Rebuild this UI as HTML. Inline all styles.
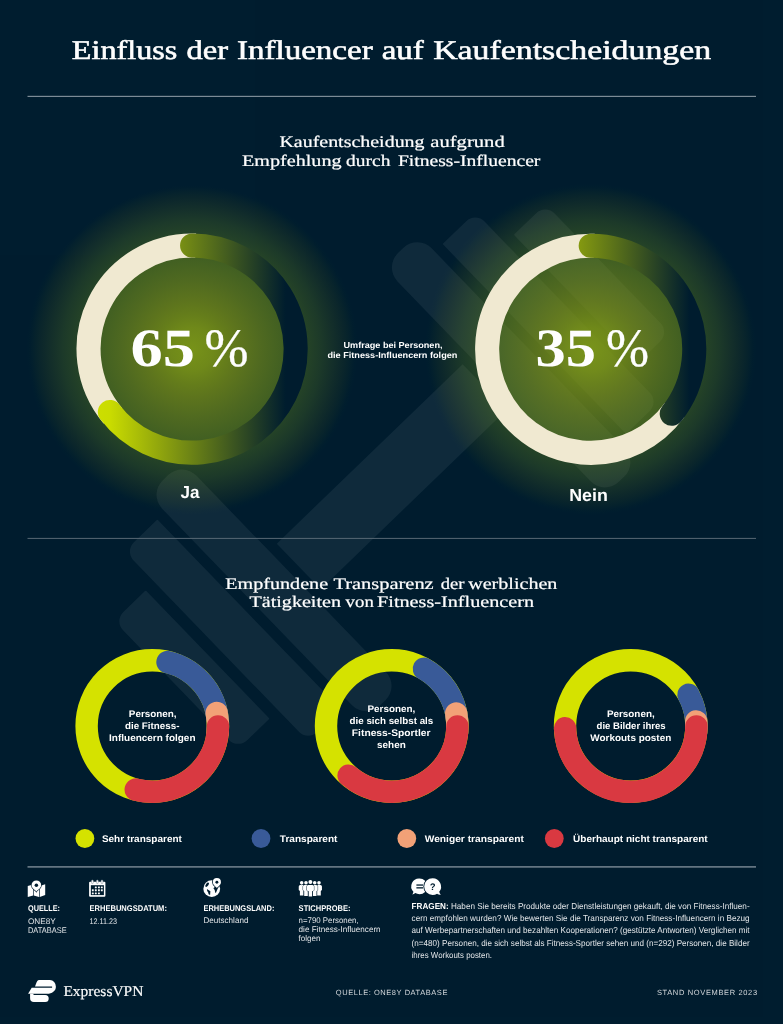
<!DOCTYPE html>
<html lang="de"><head><meta charset="utf-8"><title>Einfluss der Influencer auf Kaufentscheidungen</title>
<style>
html,body{margin:0;padding:0;background:#001d2f;}
body{width:783px;height:1024px;overflow:hidden;position:relative;font-family:"Liberation Sans",sans-serif;}
svg{position:absolute;left:0;top:0;display:block}
text{text-rendering:geometricPrecision}
svg{opacity:.9999;will-change:transform}
.serif{font-family:"Liberation Serif",serif}
.sans{font-family:"Liberation Sans",sans-serif}
.b{font-weight:bold}
</style></head><body>
<svg width="783" height="1024" viewBox="0 0 783 1024">
<defs><radialGradient id="glow" cx="50%" cy="50%" r="50%"><stop offset="0" stop-color="rgb(132,159,24)" stop-opacity="0.909"/><stop offset="0.13" stop-color="rgb(132,157,23)" stop-opacity="0.848"/><stop offset="0.21" stop-color="rgb(132,155,22)" stop-opacity="0.773"/><stop offset="0.29" stop-color="rgb(132,153,23)" stop-opacity="0.712"/><stop offset="0.42" stop-color="rgb(132,156,24)" stop-opacity="0.606"/><stop offset="0.555" stop-color="rgb(132,163,23)" stop-opacity="0.500"/><stop offset="0.7" stop-color="rgb(132,165,22)" stop-opacity="0.280"/><stop offset="0.78" stop-color="rgb(132,161,24)" stop-opacity="0.220"/><stop offset="0.855" stop-color="rgb(132,148,21)" stop-opacity="0.152"/><stop offset="0.915" stop-color="rgb(132,139,14)" stop-opacity="0.091"/><stop offset="0.975" stop-color="rgb(132,161,0)" stop-opacity="0.015"/><stop offset="1" stop-color="#7b9f19" stop-opacity="0"/></radialGradient>
<linearGradient id="g1" gradientUnits="userSpaceOnUse" x1="76" y1="0" x2="286" y2="0">
<stop offset="0" stop-color="#d2e200"/><stop offset="0.16" stop-color="#cbdd01"/><stop offset="1" stop-color="#001d2f"/>
</linearGradient>
<linearGradient id="g2" gradientUnits="userSpaceOnUse" x1="517" y1="0" x2="690" y2="0">
<stop offset="0" stop-color="#d0e000"/><stop offset="1" stop-color="#001d2f"/>
</linearGradient>
</defs>
<rect width="783" height="1024" fill="#001d2f"/>
<g transform="translate(391.73 476.68) rotate(-44)" fill="rgba(255,255,255,0.062)">
<rect x="-129.2" y="-31.7" width="258.4" height="63.4"/>
<path d="M159.8 -156.5H167.4A20 20 0 0 1 187.4 -136.5V141.5A20 20 0 0 1 167.4 161.5H159.8A20 20 0 0 1 139.8 141.5V-136.5A20 20 0 0 1 159.8 -156.5Z"/>
<path d="M-167.4 -156.5H-159.8A20 20 0 0 1 -139.8 -136.5V136.5A20 20 0 0 1 -159.8 156.5H-167.4A20 20 0 0 1 -187.4 136.5V-136.5A20 20 0 0 1 -167.4 -156.5Z"/>
<path d="M199.2 -132H231.0A13 13 0 0 1 244.0 -119V119A13 13 0 0 1 231.0 132H199.2A1 1 0 0 1 198.2 131V-131A1 1 0 0 1 199.2 -132Z"/>
<path d="M-231.0 -132H-199.2A1 1 0 0 1 -198.2 -131V131A1 1 0 0 1 -199.2 132H-231.0A13 13 0 0 1 -244.0 119V-119A13 13 0 0 1 -231.0 -132Z"/>
<path d="M256.9 -89.2H287.0A13 13 0 0 1 300.0 -76.2V76.2A13 13 0 0 1 287.0 89.2H256.9A1 1 0 0 1 255.9 88.2V-88.2A1 1 0 0 1 256.9 -89.2Z"/>
<path d="M-287.0 -89.2H-256.9A1 1 0 0 1 -255.9 -88.2V88.2A1 1 0 0 1 -256.9 89.2H-287.0A13 13 0 0 1 -300.0 76.2V-76.2A13 13 0 0 1 -287.0 -89.2Z"/>
</g>
<circle cx="192.1" cy="349.1" r="166" fill="url(#glow)"/>
<circle cx="590.7" cy="349.3" r="166" fill="url(#glow)"/>
<path d="M112.78 415.66A103.55 103.55 0 0 1 195.71 245.61" fill="none" stroke="#f1ead2" stroke-width="24.1"/>
<path d="M192.10 245.55A103.55 103.55 0 1 1 109.84 411.99" fill="none" stroke="url(#g1)" stroke-width="24.1" stroke-linecap="round"/>
<path d="M674.47 410.17A103.55 103.55 0 1 1 594.31 245.81" fill="none" stroke="#f1ead2" stroke-width="24.1"/>
<path d="M590.70 245.75A103.55 103.55 0 0 1 671.74 413.76" fill="none" stroke="url(#g2)" stroke-width="24.1" stroke-linecap="round"/>
<rect x="27.5" y="95.8" width="728.5" height="1.2" fill="#7d8c97"/>
<rect x="27.5" y="537.9" width="728.5" height="1" fill="#586975"/>
<rect x="27.5" y="866.2" width="728.5" height="1.4" fill="#7d8c97"/>
<circle cx="152.3" cy="726" r="65.7" fill="none" stroke="#d6e300" stroke-width="22.4"/>
<path d="M167.53 662.09A65.7 65.7 0 0 1 217.58 718.56" fill="none" stroke="#3a5b99" stroke-width="22.4" stroke-linecap="round"/>
<path d="M216.68 712.90A65.7 65.7 0 0 1 217.71 732.18" fill="none" stroke="#f3a278" stroke-width="22.4" stroke-linecap="round"/>
<path d="M218.00 726.46A65.7 65.7 0 0 1 135.74 789.58" fill="none" stroke="#da3a42" stroke-width="22.4" stroke-linecap="round"/>
<circle cx="391.7" cy="726" r="65.7" fill="none" stroke="#d6e300" stroke-width="22.4"/>
<path d="M423.85 668.71A65.7 65.7 0 0 1 457.04 719.13" fill="none" stroke="#3a5b99" stroke-width="22.4" stroke-linecap="round"/>
<path d="M456.19 713.46A65.7 65.7 0 0 1 457.11 732.18" fill="none" stroke="#f3a278" stroke-width="22.4" stroke-linecap="round"/>
<path d="M457.40 726.46A65.7 65.7 0 0 1 348.60 775.58" fill="none" stroke="#da3a42" stroke-width="22.4" stroke-linecap="round"/>
<circle cx="630.7" cy="726" r="65.7" fill="none" stroke="#d6e300" stroke-width="22.4"/>
<path d="M688.49 694.75A65.7 65.7 0 0 1 696.39 727.15" fill="none" stroke="#3a5b99" stroke-width="22.4" stroke-linecap="round"/>
<path d="M696.24 721.42A65.7 65.7 0 0 1 696.11 732.18" fill="none" stroke="#f3a278" stroke-width="22.4" stroke-linecap="round"/>
<path d="M696.40 726.46A65.7 65.7 0 0 1 565.04 728.29" fill="none" stroke="#da3a42" stroke-width="22.4" stroke-linecap="round"/>
<circle cx="84.9" cy="838.5" r="9.4" fill="#d6e300"/>
<circle cx="261" cy="838.5" r="9.4" fill="#3a5b99"/>
<circle cx="406.8" cy="838.5" r="9.4" fill="#f3a278"/>
<circle cx="554.3" cy="838.5" r="9.4" fill="#da3a42"/>
<text x="71.8" y="58.8" font-size="27" class="serif" textLength="105.6" lengthAdjust="spacingAndGlyphs" stroke="#fff" stroke-width="0.55" fill="#fff">Einfluss</text>
<text x="186.4" y="58.8" font-size="27" class="serif" textLength="41.6" lengthAdjust="spacingAndGlyphs" stroke="#fff" stroke-width="0.55" fill="#fff">der</text>
<text x="237" y="58.8" font-size="27" class="serif" textLength="135.7" lengthAdjust="spacingAndGlyphs" stroke="#fff" stroke-width="0.55" fill="#fff">Influencer</text>
<text x="381.7" y="58.8" font-size="27" class="serif" textLength="42.2" lengthAdjust="spacingAndGlyphs" stroke="#fff" stroke-width="0.55" fill="#fff">auf</text>
<text x="433.2" y="58.8" font-size="27" class="serif" textLength="278.0" lengthAdjust="spacingAndGlyphs" stroke="#fff" stroke-width="0.55" fill="#fff">Kaufentscheidungen</text>
<text x="279.4" y="146.9" font-size="16.2" class="serif" textLength="145.2" lengthAdjust="spacingAndGlyphs" stroke="#fff" stroke-width="0.22" fill="#fff">Kaufentscheidung</text>
<text x="430.3" y="146.9" font-size="16.2" class="serif" textLength="74.4" lengthAdjust="spacingAndGlyphs" stroke="#fff" stroke-width="0.22" fill="#fff">aufgrund</text>
<text x="242" y="166.4" font-size="16.2" class="serif" textLength="99.6" lengthAdjust="spacingAndGlyphs" stroke="#fff" stroke-width="0.22" fill="#fff">Empfehlung</text>
<text x="346.1" y="166.4" font-size="16.2" class="serif" textLength="44.3" lengthAdjust="spacingAndGlyphs" stroke="#fff" stroke-width="0.22" fill="#fff">durch</text>
<text x="397.9" y="166.4" font-size="16.2" class="serif" textLength="142.5" lengthAdjust="spacingAndGlyphs" stroke="#fff" stroke-width="0.22" fill="#fff">Fitness-Influencer</text>
<text x="225.3" y="588.5" font-size="16.2" class="serif" textLength="102.8" lengthAdjust="spacingAndGlyphs" stroke="#fff" stroke-width="0.22" fill="#fff">Empfundene</text>
<text x="333.4" y="588.5" font-size="16.2" class="serif" textLength="100.3" lengthAdjust="spacingAndGlyphs" stroke="#fff" stroke-width="0.22" fill="#fff">Transparenz</text>
<text x="440.7" y="588.5" font-size="16.2" class="serif" textLength="23.7" lengthAdjust="spacingAndGlyphs" stroke="#fff" stroke-width="0.22" fill="#fff">der</text>
<text x="468.2" y="588.5" font-size="16.2" class="serif" textLength="89.2" lengthAdjust="spacingAndGlyphs" stroke="#fff" stroke-width="0.22" fill="#fff">werblichen</text>
<text x="249.5" y="607.3" font-size="16.2" class="serif" textLength="91.5" lengthAdjust="spacingAndGlyphs" stroke="#fff" stroke-width="0.22" fill="#fff">Tätigkeiten</text>
<text x="345.6" y="607.3" font-size="16.2" class="serif" textLength="28.2" lengthAdjust="spacingAndGlyphs" stroke="#fff" stroke-width="0.22" fill="#fff">von</text>
<text x="377.1" y="607.3" font-size="16.2" class="serif" textLength="156.9" lengthAdjust="spacingAndGlyphs" stroke="#fff" stroke-width="0.22" fill="#fff">Fitness-Influencern</text>
<text x="130.6" y="365.8" font-size="54" class="serif b" text-anchor="start" textLength="64.4" lengthAdjust="spacingAndGlyphs"  fill="#fff">65</text>
<text x="204.4" y="365.8" font-size="54" class="serif" text-anchor="start" textLength="44" lengthAdjust="spacingAndGlyphs" stroke="#fff" stroke-width="0.3" fill="#fff">%</text>
<text x="535.5" y="366.3" font-size="54" class="serif b" text-anchor="start" textLength="60.5" lengthAdjust="spacingAndGlyphs"  fill="#fff">35</text>
<text x="606" y="366.3" font-size="54" class="serif" text-anchor="start" textLength="43" lengthAdjust="spacingAndGlyphs" stroke="#fff" stroke-width="0.3" fill="#fff">%</text>
<text x="190.1" y="498.4" font-size="17.3" class="sans b" text-anchor="middle" textLength="19" lengthAdjust="spacingAndGlyphs"  fill="#fff">Ja</text>
<text x="588.5" y="501.3" font-size="17.3" class="sans b" text-anchor="middle" textLength="38.6" lengthAdjust="spacingAndGlyphs"  fill="#fff">Nein</text>
<text x="393" y="348.2" font-size="8.6" class="sans b" text-anchor="middle" textLength="99" lengthAdjust="spacingAndGlyphs"  fill="#fff">Umfrage bei Personen,</text>
<text x="392.4" y="357.8" font-size="8.6" class="sans b" text-anchor="middle" textLength="130" lengthAdjust="spacingAndGlyphs"  fill="#fff">die Fitness-Influencern folgen</text>
<text x="152.7" y="716.6" font-size="9.6" class="sans b" text-anchor="middle" textLength="47.8" lengthAdjust="spacingAndGlyphs"  fill="#fff">Personen,</text>
<text x="152.2" y="728.5" font-size="9.6" class="sans b" text-anchor="middle" textLength="54.4" lengthAdjust="spacingAndGlyphs"  fill="#fff">die Fitness-</text>
<text x="152.3" y="740.5" font-size="9.6" class="sans b" text-anchor="middle" textLength="86.4" lengthAdjust="spacingAndGlyphs"  fill="#fff">Influencern folgen</text>
<text x="391.4" y="712" font-size="9.6" class="sans b" text-anchor="middle" textLength="47.8" lengthAdjust="spacingAndGlyphs"  fill="#fff">Personen,</text>
<text x="391.4" y="724.1" font-size="9.6" class="sans b" text-anchor="middle" textLength="83.7" lengthAdjust="spacingAndGlyphs"  fill="#fff">die sich selbst als</text>
<text x="391.2" y="736.2" font-size="9.6" class="sans b" text-anchor="middle" textLength="78.7" lengthAdjust="spacingAndGlyphs"  fill="#fff">Fitness-Sportler</text>
<text x="391.4" y="748" font-size="9.6" class="sans b" text-anchor="middle" textLength="28.7" lengthAdjust="spacingAndGlyphs"  fill="#fff">sehen</text>
<text x="630.8" y="716.5" font-size="9.6" class="sans b" text-anchor="middle" textLength="47.8" lengthAdjust="spacingAndGlyphs"  fill="#fff">Personen,</text>
<text x="631.1" y="728.5" font-size="9.6" class="sans b" text-anchor="middle" textLength="69.1" lengthAdjust="spacingAndGlyphs"  fill="#fff">die Bilder ihres</text>
<text x="630.8" y="740.5" font-size="9.6" class="sans b" text-anchor="middle" textLength="81" lengthAdjust="spacingAndGlyphs"  fill="#fff">Workouts posten</text>
<text x="101.9" y="842" font-size="9.6" class="sans b" text-anchor="start" textLength="80" lengthAdjust="spacingAndGlyphs"  fill="#fff">Sehr transparent</text>
<text x="279.8" y="842" font-size="9.6" class="sans b" text-anchor="start" textLength="57.6" lengthAdjust="spacingAndGlyphs"  fill="#fff">Transparent</text>
<text x="424.7" y="842" font-size="9.6" class="sans b" text-anchor="start" textLength="99.2" lengthAdjust="spacingAndGlyphs"  fill="#fff">Weniger transparent</text>
<text x="573.1" y="842" font-size="9.6" class="sans b" text-anchor="start" textLength="134.6" lengthAdjust="spacingAndGlyphs"  fill="#fff">Überhaupt nicht transparent</text>
<text x="28" y="911.1" font-size="8.3" class="sans b" text-anchor="start" textLength="32" lengthAdjust="spacingAndGlyphs"  fill="#fff">QUELLE:</text>
<text x="28" y="923.8" font-size="8.2" class="sans" text-anchor="start" fill="#e3e6e9">ONE8Y</text>
<text x="28" y="933.1" font-size="8.2" class="sans" text-anchor="start" textLength="38.6" lengthAdjust="spacingAndGlyphs" fill="#e3e6e9">DATABASE</text>
<text x="89.5" y="911.1" font-size="8.3" class="sans b" text-anchor="start" textLength="77.4" lengthAdjust="spacingAndGlyphs"  fill="#fff">ERHEBUNGSDATUM:</text>
<text x="89.5" y="923.8" font-size="8.2" class="sans" text-anchor="start" textLength="27.5" lengthAdjust="spacingAndGlyphs" fill="#e3e6e9">12.11.23</text>
<text x="203.4" y="911.1" font-size="8.3" class="sans b" text-anchor="start" textLength="71" lengthAdjust="spacingAndGlyphs"  fill="#fff">ERHEBUNGSLAND:</text>
<text x="203.4" y="923.2" font-size="8.2" class="sans" text-anchor="start" textLength="45" lengthAdjust="spacingAndGlyphs" fill="#e3e6e9">Deutschland</text>
<text x="298.6" y="911.1" font-size="8.3" class="sans b" text-anchor="start" textLength="52" lengthAdjust="spacingAndGlyphs"  fill="#fff">STICHPROBE:</text>
<text x="298.6" y="923.2" font-size="8.2" class="sans" text-anchor="start" textLength="60" lengthAdjust="spacingAndGlyphs" fill="#e3e6e9">n=790 Personen,</text>
<text x="298.6" y="932.3" font-size="8.2" class="sans" text-anchor="start" textLength="82" lengthAdjust="spacingAndGlyphs" fill="#e3e6e9">die Fitness-Influencern</text>
<text x="298.6" y="941.2" font-size="8.2" class="sans" text-anchor="start" textLength="22" lengthAdjust="spacingAndGlyphs" fill="#e3e6e9">folgen</text>
<text x="411.6" y="909.4" font-size="8.6" class="sans" text-anchor="start" textLength="338" lengthAdjust="spacingAndGlyphs" fill="#e3e6e9"><tspan class="b" fill="#fff">FRAGEN:</tspan> Haben Sie bereits Produkte oder Dienstleistungen gekauft, die von Fitness-Influen-</text>
<text x="411.6" y="921.3" font-size="8.6" class="sans" text-anchor="start" textLength="338" lengthAdjust="spacingAndGlyphs" fill="#e3e6e9">cern empfohlen wurden? Wie bewerten Sie die Transparenz von Fitness-Influencern in Bezug</text>
<text x="411.6" y="933.4" font-size="8.6" class="sans" text-anchor="start" textLength="338" lengthAdjust="spacingAndGlyphs" fill="#e3e6e9">auf Werbepartnerschaften und bezahlten Kooperationen? (gestützte Antworten) Verglichen mit</text>
<text x="411.6" y="945.7" font-size="8.6" class="sans" text-anchor="start" textLength="338" lengthAdjust="spacingAndGlyphs" fill="#e3e6e9">(n=480) Personen, die sich selbst als Fitness-Sportler sehen und (n=292) Personen, die Bilder</text>
<text x="411.6" y="957.7" font-size="8.6" class="sans" text-anchor="start" textLength="80.4" lengthAdjust="spacingAndGlyphs" fill="#e3e6e9">ihres Workouts posten.</text>
<text x="63.4" y="995.7" font-size="15" class="serif" text-anchor="start" textLength="80" lengthAdjust="spacingAndGlyphs" stroke="#fff" stroke-width="0.15" fill="#fff">ExpressVPN</text>
<text x="335.8" y="994.7" font-size="7.5" class="sans" textLength="111.6" lengthAdjust="spacing" fill="#d5d9dd" style="fill:#d5d9dd">QUELLE: ONE8Y DATABASE</text>
<text x="656.9" y="994.7" font-size="7.5" class="sans" textLength="100.2" lengthAdjust="spacing" style="fill:#d5d9dd">STAND NOVEMBER 2023</text>
<g transform="translate(22 874)" fill="#fff"><path d="M5.75 11.9L11.1 10.4V21.5L5.75 23Z"/><path d="M11.75 10.4L17.1 11.9V23L11.75 21.5Z"/><path d="M17.75 11.9L23.2 10.3V21.1L17.75 23Z"/><path d="M14.37 17.4C13.5 15.9 9.55 14.4 9.55 11.2A4.82 4.82 0 0 1 19.19 11.2C19.19 14.4 15.2 15.9 14.37 17.4Z" stroke="#001d2f" stroke-width="1.4" paint-order="stroke"/><circle cx="14.37" cy="11.2" r="1.75" fill="#001d2f"/></g>
<g transform="translate(83 874)"><rect x="6.1" y="7.85" width="16.3" height="14.95" rx="1" fill="#fff"/><rect x="7.85" y="11.2" width="13.05" height="9.9" fill="#001d2f"/><rect x="8.5" y="6.0" width="1.8" height="3.6" rx="0.9" fill="#fff" stroke="#7f8d98" stroke-width="0.5"/><rect x="13.45" y="6.0" width="1.8" height="3.6" rx="0.9" fill="#fff" stroke="#7f8d98" stroke-width="0.5"/><rect x="18.1" y="6.0" width="1.8" height="3.6" rx="0.9" fill="#fff" stroke="#7f8d98" stroke-width="0.5"/><rect x="11.850000000000001" y="12.450000000000001" width="1.9" height="1.9" rx="0.5" fill="#fff"/><rect x="14.950000000000001" y="12.450000000000001" width="1.9" height="1.9" rx="0.5" fill="#fff"/><rect x="17.85" y="12.450000000000001" width="1.9" height="1.9" rx="0.5" fill="#fff"/><rect x="8.850000000000001" y="15.350000000000001" width="1.9" height="1.9" rx="0.5" fill="#fff"/><rect x="11.850000000000001" y="15.350000000000001" width="1.9" height="1.9" rx="0.5" fill="#fff"/><rect x="14.950000000000001" y="15.350000000000001" width="1.9" height="1.9" rx="0.5" fill="#fff"/><rect x="17.85" y="15.350000000000001" width="1.9" height="1.9" rx="0.5" fill="#fff"/><rect x="8.850000000000001" y="18.400000000000002" width="1.9" height="1.9" rx="0.5" fill="#fff"/><rect x="11.850000000000001" y="18.400000000000002" width="1.9" height="1.9" rx="0.5" fill="#fff"/><rect x="14.950000000000001" y="18.400000000000002" width="1.9" height="1.9" rx="0.5" fill="#fff"/></g>
<g transform="translate(197 872)"><circle cx="14.75" cy="16.67" r="8.4" fill="#fff"/><ellipse cx="10.15" cy="12.7" rx="1.25" ry="2.5" transform="rotate(38 10.15 12.7)" fill="#001d2f"/><path d="M9.9 17.1L13.4 19.2L13.1 23L11.6 22.3L11.2 20.5L10.2 19Z" fill="#001d2f"/><path d="M16.4 16.2L18 14.7L20.8 16.2L18.9 20.9L18.2 20.4L17.7 17.9Z" fill="#001d2f"/><path d="M19.9 15.9C19.1 14.6 15.85 13.2 15.85 10.15A4.05 4.05 0 0 1 23.95 10.15C23.95 13.2 20.7 14.6 19.9 15.9Z" fill="#fff" stroke="#001d2f" stroke-width="1.6" paint-order="stroke"/><circle cx="19.9" cy="10.2" r="1.45" fill="#001d2f"/></g>
<g transform="translate(293 874)" fill="#fff" stroke="#001d2f" stroke-width="0.9" paint-order="stroke"><path d="M5.749999999999999 12.6A1.5 1.5 0 0 1 7.249999999999999 11.1H10.149999999999999A1.5 1.5 0 0 1 11.649999999999999 12.6V16.1L10.5 17.0V21.6H6.8999999999999995V17.0L5.749999999999999 16.1Z"/><circle cx="8.7" cy="8.85" r="1.8"/><path d="M23.05 12.6A1.5 1.5 0 0 1 24.55 11.1H27.45A1.5 1.5 0 0 1 28.95 12.6V16.1L27.8 17.0V21.6H24.2V17.0L23.05 16.1Z"/><circle cx="26.0" cy="8.85" r="1.8"/><path d="M10.1 12.5A1.5 1.5 0 0 1 11.6 11.0H14.4A1.5 1.5 0 0 1 15.9 12.5V16.2L14.8 17.099999999999998V21.9H11.2V17.099999999999998L10.1 16.2Z"/><circle cx="13.0" cy="8.75" r="1.8"/><path d="M18.8 12.5A1.5 1.5 0 0 1 20.3 11.0H23.099999999999998A1.5 1.5 0 0 1 24.599999999999998 12.5V16.2L23.5 17.099999999999998V21.9H19.9V17.099999999999998L18.8 16.2Z"/><circle cx="21.7" cy="8.75" r="1.8"/><path d="M13.95 12.4A1.5 1.5 0 0 1 15.45 10.9H19.349999999999998A1.5 1.5 0 0 1 20.849999999999998 12.4V16.4L19.099999999999998 17.299999999999997V22.6H15.7V17.299999999999997L13.95 16.4Z"/><circle cx="17.4" cy="8.1" r="2.0"/></g>
<g transform="translate(406 872)"><path d="M13.5 6.4A7.9 7.9 0 0 1 13.5 22.2C11.9 22.2 10.5 21.8 9.3 21.1C8.4 21.9 7.3 22.4 6.2 22.6C6.9 21.7 7.3 20.7 7.4 19.7A7.9 7.9 0 0 1 13.5 6.4Z" fill="#fff"/><path d="M26.6 6.15A8.4 8.4 0 0 0 26.6 22.95C28.3 22.95 29.8 22.5 31.1 21.7C32 22.3 33.3 22.7 34.8 22.7C33.9 21.9 33.4 20.9 33.2 19.8A8.4 8.4 0 0 0 26.6 6.15Z" fill="#fff" stroke="#001d2f" stroke-width="1.8" paint-order="stroke"/><rect x="10.4" y="12.4" width="6.6" height="1.3" fill="#001d2f"/><rect x="10.4" y="15.2" width="6.6" height="1.3" fill="#001d2f"/><text x="26.6" y="18" font-size="9.5" class="sans b" text-anchor="middle" style="fill:#001d2f">?</text></g>
<g transform="translate(24 974)" fill="#fff"><path d="M14.8 5.9H26A6 6.8 0 0 1 31.9 12.7C31.9 17 28 19.7 23 19.7H4.1L7.7 13.7H28.1V12.4H11L12.5 8.4Q13.3 5.9 14.8 5.9Z"/><path d="M6.1 19.7H9.5L9.5 21.1H21.2A3.5 3.5 0 0 1 21.2 28.1H9.9A3.8 3.8 0 0 1 6.1 24.3Z"/></g>
</svg></body></html>
